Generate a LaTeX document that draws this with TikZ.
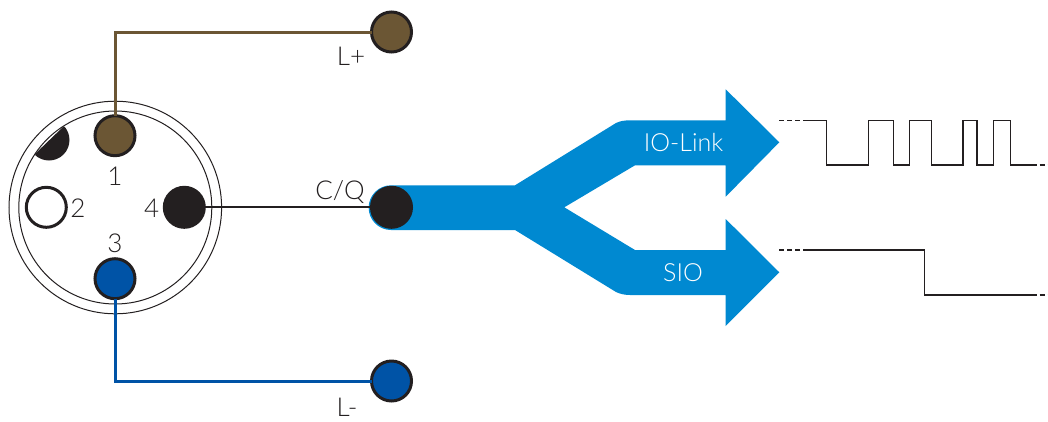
\documentclass[tikz,border=0pt]{standalone}
\usepackage{fontspec}
\setmainfont{Lato Light}
\definecolor{inkk}{HTML}{231F20}
\definecolor{brownw}{HTML}{6B5634}
\definecolor{bluew}{HTML}{0053A6}
\definecolor{flow}{HTML}{0089D1}
\tikzset{
  pin/.style={circle,draw=inkk,line width=3pt,minimum size=40pt,inner sep=0pt,outer sep=0pt},
  shell/.style={draw=inkk,line width=1pt,fill=none},
  wire/.style={line width=3pt},
  thin wire/.style={draw=inkk,line width=2pt},
  lab/.style={text=inkk,font=\fontsize{26}{26}\selectfont,inner sep=0pt,anchor=base},
  flowlab/.style={text=white,font=\fontsize{25}{25}\selectfont,inner sep=0pt,anchor=base},
  sig/.style={draw=inkk,line width=1.5pt,line join=miter},
  sigdash/.style={draw=inkk,line width=1.5pt,dash pattern=on 5pt off 3pt}
}
\begin{document}
\begin{tikzpicture}[x=1pt,y=-1pt]
\useasboundingbox (0,0) rectangle (1048,421);
% flow shape
\fill[flow] (391,185.3) -- (515,185.3) -- (616,123) .. controls (620,121) and (625,120.3) .. (630,120.3)
 -- (725.7,120.3) -- (725.7,89.3) -- (779.3,142.3) -- (725.7,196.7) -- (725.7,165.3) -- (635,165.3)
 -- (564.3,207.3) -- (635,250) -- (725.7,250) -- (725.7,219) -- (779.3,272.3) -- (725.7,326) -- (725.7,295)
 -- (630,295) .. controls (625,295) and (620,294) .. (616,292) -- (515,230) -- (391,230)
 arc[start angle=90,end angle=270,radius=22.35] -- cycle;
% connector shell
\coordinate (cc) at (115.3,207.5);
\draw[shell] (cc) circle[radius=106.3];
\draw[shell] (cc) circle[radius=96.5];
% key
\begin{scope}
\clip (35.7,153.3) -- (63.3,126.7) -- (80,126) -- (80,170) -- (30,170) -- cycle;
\fill[inkk] (49,140) circle[radius=20.5];
\end{scope}
% pins and terminals
\node[pin,fill=brownw] (p1) at (115,135.7) {};
\node[pin,fill=white] (p2) at (46.3,207.3) {};
\node[pin,fill=bluew] (p3) at (115,278.7) {};
\node[pin,fill=inkk] (p4) at (184.3,207.3) {};
\node[pin,fill=brownw] (lp) at (391.5,32) {};
\node[pin,fill=bluew] (lm) at (391.5,381) {};
\node[pin,fill=inkk] (cq) at (391.5,207.3) {};
% wires
\draw[wire,draw=brownw] (p1.north) |- (lp.west);
\draw[wire,draw=bluew] (p3.south) |- (lm.west);
\draw[thin wire] (p4.east) -- (cq.west);
% labels
\node[lab] (t1) at (115,185) {1};
\node[lab] (t2) at (78,217) {2};
\node[lab] (t3) at (115,252) {3};
\node[lab] (t4) at (151.7,217) {4};
\node[lab] (tlp) at (351,65) {L+};
\node[lab] (tlm) at (347,416) {L-};
\node[lab] (tcq) at (340,199) {C/Q};
\node[flowlab] (tio) at (683.5,151.7) {IO-Link};
\node[flowlab] (tsio) at (683,281.7) {SIO};
% signals
\coordinate (a0) at (779,120.3);
\coordinate (a1) at (803,120.3);
\coordinate (a2) at (1031.7,165);
\coordinate (a3) at (1048,165);
\draw[sigdash] (a0) -- (a1);
\draw[sig] (a1) -- (826.7,120.3) -- (826.7,165) -- (868.3,165) -- (868.3,120.3) -- (893.7,120.3) -- (893.7,165)
 -- (909.3,165) -- (909.3,120.3) -- (931.7,120.3) -- (931.7,165) -- (963,165) -- (963,120.3) -- (977,120.3)
 -- (977,165) -- (993.3,165) -- (993.3,120.3) -- (1010.7,120.3) -- (1010.7,165) -- (a2);
\draw[sigdash] (a2) -- (a3);
\coordinate (b0) at (779,250);
\coordinate (b1) at (803,250);
\coordinate (b2) at (1031.7,295);
\coordinate (b3) at (1048,295);
\draw[sigdash] (b0) -- (b1);
\draw[sig] (b1) -- (924.3,250) -- (924.3,295) -- (b2);
\draw[sigdash] (b2) -- (b3);
\end{tikzpicture}
\end{document}
